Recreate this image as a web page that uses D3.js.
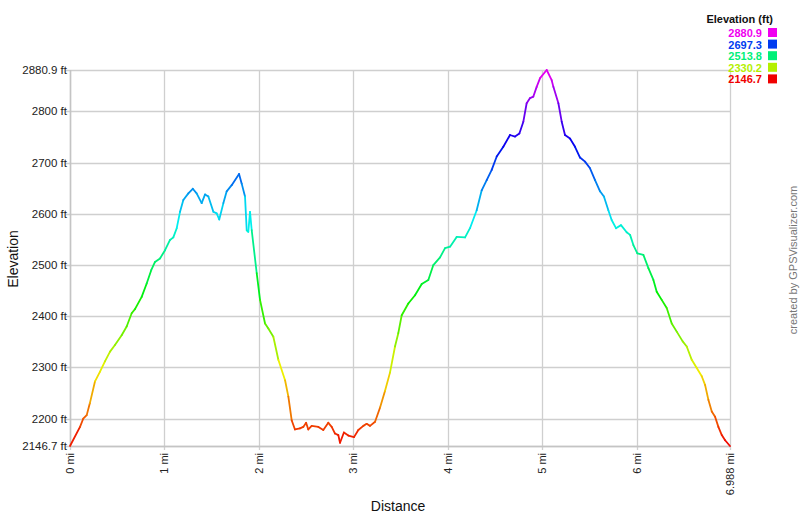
<!DOCTYPE html>
<html><head><meta charset="utf-8">
<script src="https://cdn.jsdelivr.net/npm/d3@7"></script>
<style>body{margin:0;background:#fff}svg{display:block;font-family:"Liberation Sans",Arial,sans-serif}</style>
</head><body><svg id="c" width="800" height="517"></svg>
<script>
const distance = [0,0.106,0.14,0.177,0.21,0.265,0.318,0.37,0.424,0.476,0.547,0.6,0.653,0.688,0.759,0.812,0.86,0.9,0.953,1.006,1.059,1.094,1.13,1.165,1.2,1.253,1.3,1.341,1.394,1.43,1.465,1.518,1.553,1.58,1.624,1.659,1.712,1.79,1.818,1.853,1.871,1.888,1.906,1.924,1.977,2.012,2.065,2.1,2.153,2.206,2.277,2.312,2.347,2.382,2.435,2.47,2.5,2.523,2.559,2.63,2.682,2.735,2.771,2.806,2.841,2.859,2.9,2.947,3.007,3.053,3.106,3.141,3.177,3.23,3.283,3.335,3.388,3.441,3.476,3.512,3.582,3.653,3.724,3.794,3.847,3.918,3.971,4.024,4.094,4.183,4.235,4.306,4.359,4.412,4.465,4.518,4.588,4.659,4.712,4.758,4.8,4.835,4.871,4.906,4.941,4.977,5.047,5.1,5.118,5.171,5.206,5.241,5.294,5.347,5.4,5.453,5.506,5.559,5.612,5.653,5.7,5.735,5.781,5.834,5.894,5.93,5.965,6.007,6.071,6.124,6.177,6.212,6.265,6.318,6.371,6.424,6.487,6.53,6.583,6.636,6.689,6.724,6.759,6.795,6.83,6.865,6.901,6.936,6.988];
const elevation = [2146.7,2184,2200,2207,2230,2273,2292,2312,2331,2344,2363,2380,2406,2414,2438,2464,2490,2506,2513,2529,2549,2554,2572,2604,2627,2640,2649,2640,2621,2638,2634,2604,2601,2589,2621,2644,2656,2678,2659,2634,2568,2565,2604,2568,2484,2432,2386,2376,2360,2315,2275,2243,2197,2179,2181,2184,2192,2179,2186,2184,2178,2192,2184,2171,2168,2153,2173,2167,2164,2178,2186,2190,2186,2194,2222,2254,2290,2341,2367,2402,2425,2441,2463,2471,2500,2515,2533,2536,2555,2554,2572,2607,2646,2666,2686,2712,2731,2754,2751,2757,2780,2816,2826,2829,2848,2865,2880.9,2861,2848,2816,2780,2754,2747,2731,2710,2702,2689,2666,2644,2634,2607,2588,2572,2578,2564,2559,2539,2523,2520,2494,2471,2448,2432,2416,2386,2370,2351,2341,2315,2299,2283,2266,2237,2214,2204,2184,2168,2158,2146.7];
const yTicks = [2146.7,2200,2300,2400,2500,2600,2700,2800,2880.9];
const xTicks = [0,1,2,3,4,5,6,6.988];
const legendValues = [2880.9,2697.3,2513.8,2330.2,2146.7];

const svg = d3.select("#c");
const L=70,R=730,T=70,B=446;
const x = d3.scaleLinear().domain([0,6.988]).range([L,R]);
const y = d3.scaleLinear().domain([2146.7,2880.9]).range([B,T]);
const hue = d3.scaleLinear().domain([2146.7,2880.9]).range([0,300]);
const col = v => d3.hsl(hue(v),1,0.47).toString();

const fmtY = v => (Number.isInteger(v)? v : v.toFixed(1)) + " ft";
const fmtX = v => (Number.isInteger(v)? v : v.toFixed(3)) + " mi";

// grid
svg.append("g").selectAll("line").data(yTicks).join("line")
  .attr("x1",L-4).attr("x2",R).attr("y1",d=>Math.round(y(d))+0.5).attr("y2",d=>Math.round(y(d))+0.5)
  .attr("stroke","#cfcfcf").attr("stroke-width",1.3);
svg.append("g").selectAll("line").data(xTicks).join("line")
  .attr("x1",d=>Math.round(x(d))+0.5).attr("x2",d=>Math.round(x(d))+0.5).attr("y1",T).attr("y2",B+4)
  .attr("stroke","#cfcfcf").attr("stroke-width",1.3);
svg.append("line").attr("x1",L).attr("x2",R).attr("y1",B+0.5).attr("y2",B+0.5).attr("stroke","#c4c4c4").attr("stroke-width",1.5);
svg.append("line").attr("x1",L+0.5).attr("x2",L+0.5).attr("y1",T).attr("y2",B).attr("stroke","#c4c4c4").attr("stroke-width",1.5);

// y labels
svg.append("g").selectAll("text").data(yTicks).join("text")
  .attr("x",L-3).attr("y",d=>y(d)+4).attr("text-anchor","end")
  .attr("font-size",11.5).attr("fill","#222")
  .text(fmtY);
// x labels
svg.append("g").selectAll("text").data(xTicks).join("text")
  .attr("transform",d=>`translate(${x(d)+4},${B+7}) rotate(-90)`).attr("text-anchor","end")
  .attr("font-size",11).attr("fill","#222")
  .text(fmtX);

// axis titles
svg.append("text").attr("transform","translate(18,259) rotate(-90)").attr("text-anchor","middle")
  .attr("font-size",14).attr("fill","#111").text("Elevation");
svg.append("text").attr("x",398).attr("y",511).attr("text-anchor","middle")
  .attr("font-size",14).attr("fill","#111").text("Distance");

// credit
svg.append("text").attr("transform","translate(797,260) rotate(-90)").attr("text-anchor","middle")
  .attr("font-size",11).attr("fill","#777").text("created by GPSVisualizer.com");

// line segments
const pts = distance.map((d,i)=>[d,elevation[i]]);
const line = d3.line().x(d=>x(d[0])).y(d=>y(d[1]));
const segs = d3.pairs(pts);
svg.append("g").selectAll("path").data(segs).join("path")
  .attr("d",d=>line(d)).attr("fill","none")
  .attr("stroke",d=>col((d[0][1]+d[1][1])/2)).attr("stroke-width",1.8).attr("stroke-linecap","round");

// legend
svg.append("text").attr("x",773).attr("y",23).attr("text-anchor","end").attr("font-size",11)
  .attr("font-weight","bold").attr("fill","#111").text("Elevation (ft)");
const lg = svg.append("g");
legendValues.forEach((v,i)=>{
  const yy = 37 + i*11.6;
  lg.append("text").attr("x",762).attr("y",yy).attr("text-anchor","end").attr("font-size",11)
    .attr("font-weight","bold").attr("fill",col(v)).text(v.toFixed(1));
  lg.append("rect").attr("x",768).attr("y",yy-9).attr("width",9).attr("height",9).attr("fill",col(v));
});
</script></body></html>
